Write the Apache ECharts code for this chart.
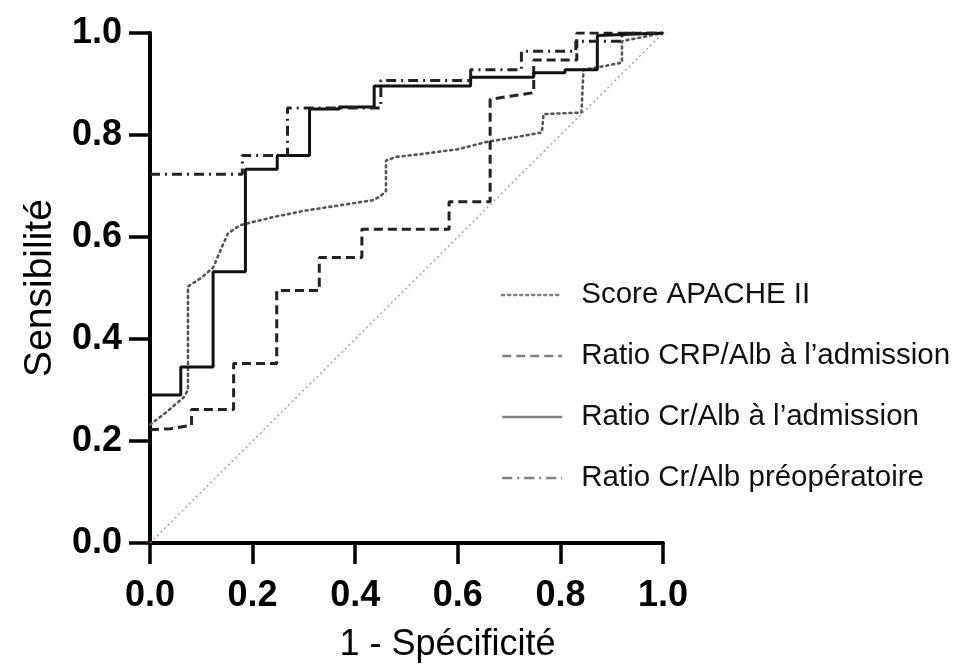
<!DOCTYPE html>
<html>
<head>
<meta charset="utf-8">
<script src="https://cdn.jsdelivr.net/npm/echarts@6/dist/echarts.min.js"></script>
<style>
html,body{margin:0;padding:0;background:#fff;}
#c{width:954px;height:669px;}
</style>
</head>
<body>
<div id="c"></div>
<script>
// ---- data ----
const seriesNames = ["Score APACHE II", "Ratio CRP/Alb à l’admission", "Ratio Cr/Alb à l’admission", "Ratio Cr/Alb préopératoire"];
const tickLabels = [0.0, 0.2, 0.4, 0.6, 0.8, 1.0];

const apacheX = [0, 0.03, 0.065, 0.074, 0.074, 0.10, 0.123, 0.14, 0.152, 0.175, 0.24, 0.304, 0.369, 0.434, 0.448, 0.46, 0.46, 0.48, 0.524, 0.60, 0.654, 0.72, 0.764, 0.767, 0.841, 0.845, 0.885, 0.92, 0.92, 1.0];
const apacheY = [0.232, 0.255, 0.285, 0.30, 0.503, 0.52, 0.54, 0.58, 0.607, 0.623, 0.639, 0.652, 0.662, 0.672, 0.679, 0.69, 0.75, 0.757, 0.762, 0.772, 0.786, 0.797, 0.805, 0.841, 0.844, 0.928, 0.935, 0.942, 0.984, 1.0];

const crpX = [0, 0.04, 0.081, 0.081, 0.163, 0.163, 0.247, 0.247, 0.33, 0.33, 0.413, 0.413, 0.583, 0.583, 0.663, 0.663, 0.748, 0.748, 0.832, 0.832, 1.0];
const crpY = [0.222, 0.224, 0.231, 0.262, 0.262, 0.352, 0.352, 0.495, 0.495, 0.56, 0.56, 0.615, 0.615, 0.669, 0.669, 0.870, 0.883, 0.947, 0.947, 1.0, 1.0];

const crAdmX = [0, 0.06, 0.06, 0.123, 0.123, 0.186, 0.186, 0.248, 0.248, 0.311, 0.311, 0.369, 0.369, 0.437, 0.437, 0.625, 0.625, 0.748, 0.748, 0.809, 0.809, 0.872, 0.872, 1.0];
const crAdmY = [0.29, 0.29, 0.345, 0.345, 0.532, 0.532, 0.733, 0.733, 0.76, 0.76, 0.851, 0.851, 0.855, 0.855, 0.896, 0.896, 0.913, 0.913, 0.922, 0.922, 0.928, 0.928, 0.995, 1.0];

const crPreX = [0, 0.18, 0.18, 0.268, 0.268, 0.45, 0.45, 0.625, 0.625, 0.724, 0.724, 0.83, 0.83, 0.92, 0.92, 1.0];
const crPreY = [0.723, 0.723, 0.76, 0.76, 0.853, 0.853, 0.907, 0.907, 0.928, 0.928, 0.964, 0.964, 0.984, 0.984, 1.0, 1.0];

const refX = [0, 1];
const refY = [0, 1];

const zip = (xs, ys) => xs.map((x, i) => [x, ys[i]]);

const FONT = "'Liberation Sans', Arial, Helvetica, sans-serif";
const chart = echarts.init(document.getElementById('c'), null, {renderer: 'canvas'});

const axisCommon = {
  type: 'value', min: 0, max: 1, interval: 0.2,
  splitLine: {show: false},
  axisLine: {show: true, onZero: false, lineStyle: {color: '#000', width: 4}},
  axisTick: {show: true, length: 21, lineStyle: {color: '#000', width: 3.5}},
  axisLabel: {
    color: '#000', fontFamily: FONT, fontWeight: 'bold', fontSize: 36,
    formatter: v => v.toFixed(1)
  },
  nameLocation: 'middle'
};

const option = {
  animation: false,
  backgroundColor: '#fff',
  grid: {left: 150, right: 291, top: 33, bottom: 126, containLabel: false},
  xAxis: Object.assign({}, axisCommon, {
    name: '1 - Spécificité', nameGap: 84,
    nameTextStyle: {color: '#000', fontFamily: FONT, fontSize: 36, padding: [0, 0, 0, 82]},
    axisLabel: Object.assign({}, axisCommon.axisLabel, {margin: 35})
  }),
  yAxis: Object.assign({}, axisCommon, {
    name: 'Sensibilité', nameGap: 90, nameRotate: 90,
    nameTextStyle: {color: '#000', fontFamily: FONT, fontSize: 39},
    axisLabel: Object.assign({}, axisCommon.axisLabel, {margin: 28})
  }),
  legend: {
    orient: 'vertical', left: 496, top: 274,
    itemWidth: 60, itemHeight: 14, itemGap: 29,
    data: seriesNames,
    lineStyle: {color: '#808080', width: 2.5},
    itemStyle: {opacity: 0},
    textStyle: {color: '#111', fontFamily: FONT, fontSize: 29.5, lineHeight: 32, padding: [0, 0, 0, 14]}
  },
  series: [
    {
      name: 'ref', type: 'line', data: zip(refX, refY), showSymbol: false, symbol: 'none', silent: true, z: 1,
      lineStyle: {color: '#ee7777', width: 1.2, type: [2, 3]}
    },
    {
      name: seriesNames[0], type: 'line', data: zip(apacheX, apacheY), showSymbol: false, symbol: 'none',
      itemStyle: {color: '#555'},
      lineStyle: {color: '#555', width: 2.6, type: [2, 4], cap: 'round'}
    },
    {
      name: seriesNames[1], type: 'line', data: zip(crpX, crpY), showSymbol: false, symbol: 'none',
      itemStyle: {color: '#222'},
      lineStyle: {color: '#222', width: 3, type: [9, 5]}
    },
    {
      name: seriesNames[2], type: 'line', data: zip(crAdmX, crAdmY), showSymbol: false, symbol: 'none',
      itemStyle: {color: '#111'},
      lineStyle: {color: '#111', width: 3, type: 'solid'}
    },
    {
      name: seriesNames[3], type: 'line', data: zip(crPreX, crPreY), showSymbol: false, symbol: 'none',
      itemStyle: {color: '#222'},
      lineStyle: {color: '#222', width: 3, type: [10, 5, 2, 5]}
    }
  ]
};
chart.setOption(option);
</script>
</body>
</html>
